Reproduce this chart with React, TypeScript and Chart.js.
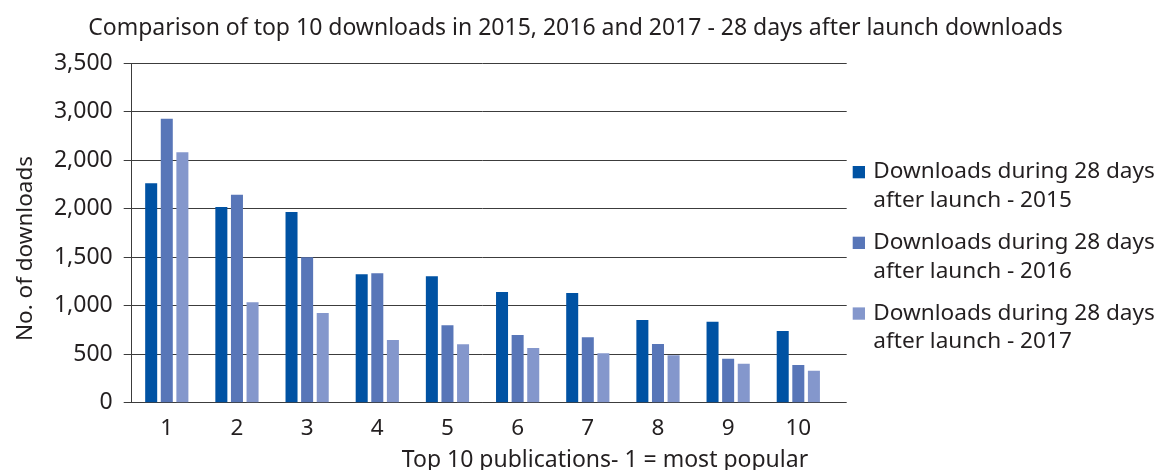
import React, { useEffect, useRef } from "react";
import { Chart, registerables } from "chart.js";

Chart.register(...registerables);

const title = "Comparison of top 10 downloads in 2015, 2016 and 2017 - 28 days after launch downloads";
const xTitle = "Top 10 publications- 1 = most popular";
const yTitle = "No. of downloads";
const categories = ["1", "2", "3", "4", "5", "6", "7", "8", "9", "10"];
const seriesNames = [
  ["Downloads during 28 days", "after launch - 2015"],
  ["Downloads during 28 days", "after launch - 2016"],
  ["Downloads during 28 days", "after launch - 2017"],
];
const d2015 = [2262, 2018, 1967, 1324, 1303, 1141, 1131, 853, 835, 739];
const d2016 = [2929, 2145, 1500, 1334, 798, 698, 674, 605, 454, 389];
const d2017 = [2582, 1035, 925, 647, 602, 564, 509, 489, 402, 330];
const yTickLabels = ["0", "500", "1,000", "1,500", "2,000", "2,000", "3,000", "3,500"];
const colors = ["#0052a3", "#5876b8", "#8497cc"];

const FONT = "'Noto Sans', sans-serif";
const TEXT = "#231f20";
const GRID = "#3c3c3c";
const W = 1159;
const H = 470;
const PLOT_LEFT = 131.7;
const PLOT_RIGHT = 833.4;
const PLOT_TOP = 63.3;
const PLOT_BOTTOM = 402.7;
const GRID_RIGHT = 846.7;

const align = (p: number) => Math.round(p - 0.5) + 0.5;

const overlay = {
  id: "overlay",
  afterDraw(chart: any) {
    const ctx = chart.ctx;
    const { chartArea, scales } = chart;
    ctx.save();
    ctx.strokeStyle = GRID;
    ctx.lineWidth = 1;
    scales.y.ticks.forEach((t: any) => {
      const y = align(scales.y.getPixelForValue(t.value));
      ctx.beginPath();
      ctx.moveTo(chartArea.right - 1, y);
      ctx.lineTo(GRID_RIGHT, y);
      ctx.stroke();
    });
    ctx.fillStyle = TEXT;
    ctx.font = `23px ${FONT}`;
    ctx.textAlign = "center";
    ctx.textBaseline = "alphabetic";
    ctx.fillText(title, 575.5, 35);
    ctx.font = `23px ${FONT}`;
    ctx.fillText(xTitle, 605, 466.5);
    ctx.save();
    ctx.translate(31.5, 248.5);
    ctx.rotate(-Math.PI / 2);
    ctx.font = `22.5px ${FONT}`;
    ctx.fillText(yTitle, 0, 0);
    ctx.restore();
    ctx.textAlign = "left";
    ctx.font = `22.6px ${FONT}`;
    seriesNames.forEach((lines, i) => {
      const top = 166 + i * 70.7;
      ctx.fillStyle = colors[i];
      ctx.fillRect(852.7, top, 12.3, 12.3);
      ctx.fillStyle = TEXT;
      lines.forEach((ln, j) => {
        ctx.fillText(ln, 873.3, top + 12.3 + j * 28.6);
      });
    });
    ctx.restore();
  },
};

export default function App() {
  const ref = useRef<HTMLCanvasElement | null>(null);
  useEffect(() => {
    if (!ref.current) return;
    const chart = new Chart(ref.current, {
      type: "bar",
      data: {
        labels: categories,
        datasets: [d2015, d2016, d2017].map((d, i) => ({
          label: seriesNames[i].join(" "),
          data: d,
          backgroundColor: colors[i],
          borderWidth: 0,
          categoryPercentage: 0.667,
          barPercentage: 0.77,
        })),
      },
      options: {
        animation: false,
        responsive: true,
        maintainAspectRatio: false,
        layout: {
          padding: { left: 0, top: PLOT_TOP, right: W - PLOT_RIGHT, bottom: 0 },
        },
        plugins: {
          legend: { display: false },
          title: { display: false },
          tooltip: { enabled: false },
        },
        scales: {
          x: {
            grid: { display: false, drawTicks: false },
            border: { display: true, color: GRID, width: 1 },
            ticks: { color: TEXT, font: { family: FONT, size: 22.5 }, padding: 12, maxRotation: 0 },
            afterFit: (s: any) => {
              s.height = H - PLOT_BOTTOM;
            },
          },
          y: {
            min: 0,
            max: 3500,
            ticks: {
              stepSize: 500,
              color: TEXT,
              font: { family: FONT, size: 23 },
              padding: 11,
              callback: (_v: any, i: number) => yTickLabels[i],
            },
            grid: { color: GRID, lineWidth: 1, tickLength: 8, drawTicks: true },
            border: { display: true, color: GRID, width: 1 },
            afterFit: (s: any) => {
              s.width = PLOT_LEFT;
            },
          },
        },
      },
      plugins: [overlay],
    });
    return () => chart.destroy();
  }, []);
  return (
    <div style={{ position: "fixed", left: 0, top: 0, width: W, height: H, background: "#fff" }}>
      <canvas ref={ref} />
    </div>
  );
}
